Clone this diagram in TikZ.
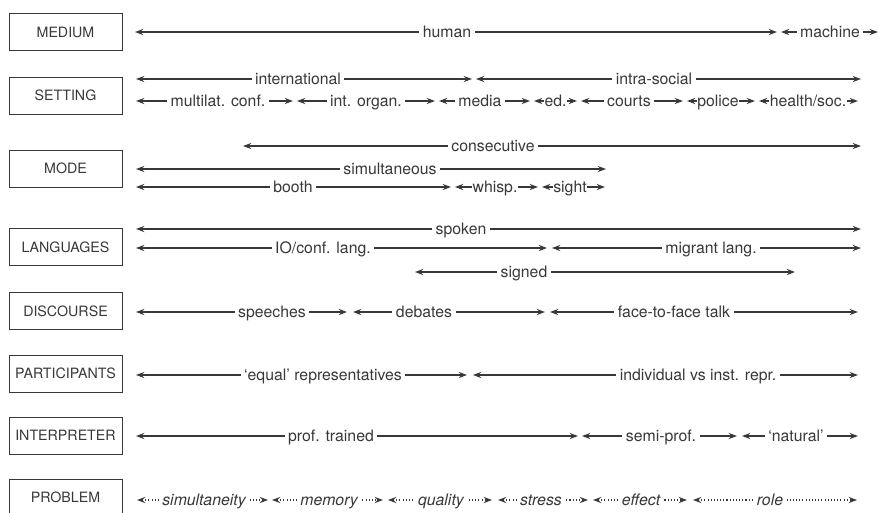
\documentclass[tikz,border=0pt]{standalone}
\usepackage{fontspec}
\setmainfont{TeX Gyre Heros}
\usepackage{xcolor}
\usepackage{tikz}
\usetikzlibrary{arrows.meta}
\definecolor{inkgray}{HTML}{383838}

\begin{document}
\begin{tikzpicture}[x=0.02cm, y=-0.02cm,
        font=\fontsize{9}{10}\selectfont,
        catbox/.style={draw=inkgray, line width=0.55pt, minimum width=2.26cm, minimum height=0.74cm, inner sep=0pt, text=inkgray, font=\fontsize{8.1}{10}\selectfont},
        bar/.style={draw=inkgray, line width=0.6pt, {Stealth[length=1.7mm, width=1.25mm, inset=0.6mm]}-{Stealth[length=1.7mm, width=1.25mm, inset=0.6mm]}},
        dotbar/.style={bar, dash pattern=on 0.6pt off 1.2pt},
        lbl/.style={fill=white, inner xsep=2pt, inner ysep=1pt, text height=1.6ex, text depth=0.45ex, text=inkgray},
        tight/.style={lbl, inner xsep=0.2pt},
        itlbl/.style={lbl, font=\fontsize{9}{10}\selectfont\itshape}]
        \useasboundingbox (0,0) rectangle (880,512);

        % boxes
        \node[catbox] (medium) at (65.5,32) {MEDIUM};
        \node[catbox] (setting) at (65.5,95.5) {SETTING};
        \node[catbox] (mode) at (65.5,168.5) {MODE};
        \node[catbox] (languages) at (65.5,247) {LANGUAGES};
        \node[catbox] (discourse) at (65.5,311) {DISCOURSE};
        \node[catbox] (participants) at (65.5,373.5) {PARTICIPANTS};
        \node[catbox] (interpreter) at (65.5,435.5) {INTERPRETER};
        \node[catbox] (problem) at (65.5,497.5) {PROBLEM};

        %%%%%%%%%%%%%%%%%%%%%%%%%%%%%%%%%%%%%%%%%%%%%
        % medium
        \draw[bar] (135,32) -- (777,32);
        \draw[bar] (781,32) -- (878,32);

        % setting
        \draw[bar] (136,79) -- (472,79);
        \draw[bar] (476,79) -- (861,79);
        \draw[bar] (136,101) -- (293,101);
        \draw[bar] (297,101) -- (435,101);
        \draw[bar] (439,101) -- (530,101);
        \draw[bar] (534,101) -- (577,101);
        \draw[bar] (581,101) -- (683,101);
        \draw[bar] (687,101) -- (755,101);
        \draw[bar] (759,101) -- (858,101);

        % mode
        \draw[bar] (243,146) -- (861,146);
        \draw[bar] (136,169) -- (606,169);
        \draw[bar] (136,187) -- (451,187);
        \draw[bar] (455,187) -- (538,187);
        \draw[bar] (542,187) -- (605,187);

        % languages
        \draw[bar] (136,229) -- (861,229);
        \draw[bar] (136,248) -- (547,248);
        \draw[bar] (552,248) -- (861,248);
        \draw[bar] (415,272) -- (795,272);

        % discourse
        \draw[bar] (136,312) -- (347,312);
        \draw[bar] (353,312) -- (545,312);
        \draw[bar] (550,312) -- (858,312);

        % participants
        \draw[bar] (136,375) -- (467,375);
        \draw[bar] (473,375) -- (858,375);

        % interpreter
        \draw[bar] (136,436) -- (578,436);
        \draw[bar] (582,436) -- (737,436);
        \draw[bar] (742,436) -- (858,436);

        % problem
        \draw[dotbar] (137,500) -- (268,500);
        \draw[dotbar] (272,500) -- (383,500);
        \draw[dotbar] (388,500) -- (492,500);
        \draw[dotbar] (498,500) -- (588,500);
        \draw[dotbar] (593,500) -- (687,500);
        \draw[dotbar] (693,500) -- (857,500);

        %%%%%%%%%%%%%%%%%%%%%%%%%%%%%%%%%%%%%%%%%%%%%
        % Text
        \node[lbl] (human) at (447,32) {human};
        \node[lbl] (machine) at (830,32) {machine};

        % Text
        \node[lbl] (intl) at (298,79) {international};
        \node[lbl] (intra) at (654,79) {intra-social};
        \node[lbl] (multilat) at (218,101) {multilat. conf.};
        \node[lbl] (organ) at (366,101) {int. organ.};
        \node[lbl] (media) at (480,101) {media};
        \node[tight] (ed) at (555.5,101) {ed.};
        \node[lbl] (courts) at (629,101) {courts};
        \node[tight] (police) at (718,101) {police};
        \node[tight] (health) at (808,101) {health/soc.};

        % Text
        \node[lbl] (consec) at (493,146) {consecutive};
        \node[lbl] (simul) at (390,169) {simultaneous};
        \node[lbl] (booth) at (293,187) {booth};
        \node[tight] (whisp) at (495,187) {whisp.};
        \node[tight] (sight) at (570,187) {sight};

        % Text
        \node[lbl] (spoken) at (461,229) {spoken};
        \node[lbl] (iolang) at (323,248) {IO/conf. lang.};
        \node[lbl] (migrant) at (711,248) {migrant lang.};
        \node[lbl] (signed) at (524,272) {signed};

        % Text
        \node[lbl] (speeches) at (272,312) {speeches};
        \node[lbl] (debates) at (424,312) {debates};
        \node[lbl] (facetalk) at (674,312) {face-to-face talk};

        % Text
        \node[lbl] (equal) at (323,375) {`equal' representatives};
        \node[lbl] (indiv) at (698,375) {individual vs inst. repr.};

        % Text
        \node[lbl] (proftr) at (331,436) {prof. trained};
        \node[lbl] (semiprof) at (661,436) {semi-prof.};
        \node[lbl] (natural) at (796,436) {`natural'};

        % Text
        \node[itlbl] (simty) at (204,500) {simultaneity};
        \node[itlbl] (memory) at (329,500) {memory};
        \node[itlbl] (quality) at (441,500) {quality};
        \node[itlbl] (stress) at (541,500) {stress};
        \node[itlbl] (effect) at (641,500) {effect};
        \node[itlbl] (role) at (770,500) {role};

    \end{tikzpicture}
\end{document}
